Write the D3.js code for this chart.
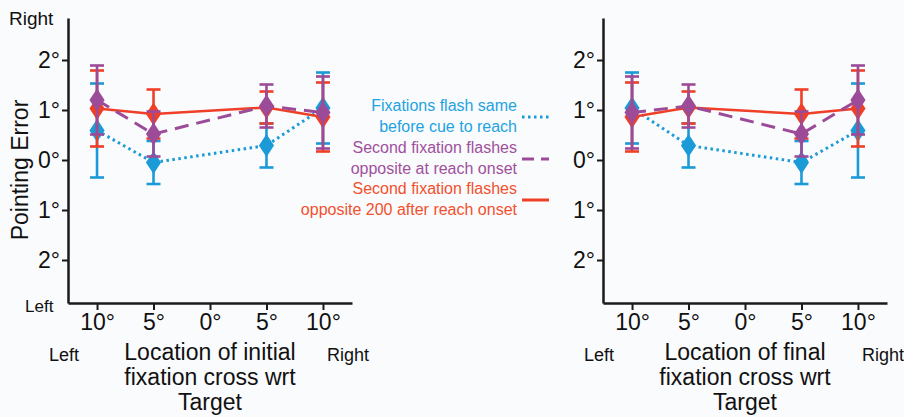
<!DOCTYPE html>
<html>
<head>
<meta charset="utf-8">
<script src="https://cdn.jsdelivr.net/npm/d3@7"></script>
<style>
  body { margin: 0; background: #fafbfd; }
  svg { display: block; font-family: "Liberation Sans", Arial, sans-serif; }
</style>
</head>
<body>
<div id="chart"></div>
<script>
// x positions (deg, target relative), no data at 0
var positions = [-10, -5, 5, 10];
var tickValues = [-10, -5, 0, 5, 10];
var tickLabels = ["10\u00b0", "5\u00b0", "0\u00b0", "5\u00b0", "10\u00b0"];
var yTickValues = [2, 1, 0, -1, -2];
var yTickLabels = ["2\u00b0", "1\u00b0", "0\u00b0", "1\u00b0", "2\u00b0"];

// left panel: initial fixation
var initialSame = [0.59, -0.05, 0.29, 1.04];
var initialSameErr = [0.94, 0.43, 0.44, 0.71];
var initialOnset = [1.2, 0.52, 1.08, 0.95];
var initialOnsetErr = [0.69, 0.45, 0.43, 0.72];
var initial200 = [1.03, 0.92, 1.05, 0.86];
var initial200Err = [0.76, 0.49, 0.32, 0.69];

// right panel: final fixation
var finalSame = [1.04, 0.29, -0.05, 0.59];
var finalSameErr = [0.71, 0.44, 0.43, 0.94];
var finalOnset = [0.95, 1.08, 0.52, 1.2];
var finalOnsetErr = [0.72, 0.43, 0.45, 0.69];
var final200 = [0.86, 1.05, 0.92, 1.03];
var final200Err = [0.69, 0.32, 0.49, 0.76];

var legendLabels = [
  ["Fixations flash same", "before cue to reach"],
  ["Second fixation flashes", "opposite at reach onset"],
  ["Second fixation flashes", "opposite 200 after reach onset"]
];

var colors = { same: "#1b9ad8", onset: "#9b4b97", late: "#ef3f26" };
var textColors = { same: "#1ea3e2", onset: "#a0509c", late: "#f2502e" };

var w = 904, h = 417;
var svg = d3.select("#chart").append("svg")
    .attr("width", w)
    .attr("height", h);

var y = d3.scaleLinear().domain([-2.86, 2.84]).range([303, 18]);

function drawPanel(x0, title, series, sideLabels) {
  var x = d3.scaleLinear().domain([-12.57, 12.57]).range([x0, x0 + 284]);
  var g = svg.append("g");

  // y axis
  var yAxis = d3.axisLeft(y)
      .tickValues(yTickValues)
      .tickFormat(function(d, i) { return yTickLabels[i]; })
      .tickSize(6)
      .tickSizeOuter(0)
      .tickPadding(2);
  var ya = g.append("g")
      .attr("transform", "translate(" + x0 + ",0)")
      .call(yAxis);
  ya.select(".domain").attr("stroke", "#1a1a1a").attr("stroke-width", 2.5);
  ya.selectAll(".tick line").attr("stroke", "#1a1a1a").attr("stroke-width", 2);
  ya.selectAll(".tick text")
      .attr("font-size", 23)
      .attr("fill", "#111")
      .attr("font-family", "Liberation Sans, Arial, sans-serif");

  // x axis
  var xAxis = d3.axisBottom(x)
      .tickValues(tickValues)
      .tickFormat(function(d, i) { return tickLabels[i]; })
      .tickSize(7)
      .tickSizeOuter(0)
      .tickPadding(4);
  var xa = g.append("g")
      .attr("transform", "translate(0,303)")
      .call(xAxis);
  xa.select(".domain").attr("stroke", "#1a1a1a").attr("stroke-width", 2.5);
  xa.selectAll(".tick line").attr("stroke", "#1a1a1a").attr("stroke-width", 2);
  xa.selectAll(".tick text")
      .attr("font-size", 23)
      .attr("fill", "#111")
      .attr("font-family", "Liberation Sans, Arial, sans-serif");

  // x title
  var cx = x(0);
  var tt = g.append("text")
      .attr("text-anchor", "middle")
      .attr("font-size", 23)
      .attr("fill", "#111");
  title.forEach(function(t, i) {
    tt.append("tspan").attr("x", cx).attr("y", 360 + i * 25).text(t);
  });
  g.append("text").attr("x", x(-10) - 48).attr("y", 361)
      .attr("font-size", 18).attr("fill", "#111")
      .text("Left");
  g.append("text").attr("x", x(10) + 4).attr("y", 361)
      .attr("font-size", 18).attr("fill", "#111")
      .text("Right");

  if (sideLabels) {
    g.append("text").attr("x", 9).attr("y", 25)
        .attr("font-size", 19).attr("fill", "#111").text("Right");
    g.append("text").attr("x", 25).attr("y", 312)
        .attr("font-size", 17).attr("fill", "#111").text("Left");
    g.append("text")
        .attr("transform", "translate(28," + y(-0.2) + ") rotate(-90)")
        .attr("text-anchor", "middle")
        .attr("font-size", 23)
        .attr("fill", "#111")
        .text("Pointing Error");
  }

  var line = d3.line()
      .x(function(d) { return x(d.x); })
      .y(function(d) { return y(d.v); });

  series.forEach(function(s) {
    var pts = positions.map(function(p, i) { return { x: p, v: s.vals[i], e: s.errs[i] }; });
    var sg = g.append("g");

    // error bars
    var eb = sg.selectAll(".eb").data(pts).enter().append("g");
    eb.append("line")
        .attr("x1", function(d) { return x(d.x); })
        .attr("x2", function(d) { return x(d.x); })
        .attr("y1", function(d) { return y(d.v + d.e); })
        .attr("y2", function(d) { return y(d.v - d.e); })
        .attr("stroke", s.color).attr("stroke-width", 2.6);
    [1, -1].forEach(function(sign) {
      eb.append("line")
          .attr("x1", function(d) { return x(d.x) - 7; })
          .attr("x2", function(d) { return x(d.x) + 7; })
          .attr("y1", function(d) { return y(d.v + sign * d.e); })
          .attr("y2", function(d) { return y(d.v + sign * d.e); })
          .attr("stroke", s.color).attr("stroke-width", 2.6);
    });

    sg.append("path")
        .datum(pts)
        .attr("d", line)
        .attr("fill", "none")
        .attr("stroke", s.color)
        .attr("stroke-width", s.width)
        .attr("stroke-dasharray", s.dash);

    sg.selectAll(".mk").data(pts).enter().append("path")
        .attr("d", d3.symbol().type(d3.symbolDiamond).size(150))
        .attr("transform", function(d) { return "translate(" + x(d.x) + "," + y(d.v) + ") scale(1.15,1)"; })
        .attr("fill", s.color);
  });
}

function seriesFor(same, sameErr, onset, onsetErr, late, lateErr) {
  return [
    { vals: same, errs: sameErr, color: colors.same, dash: "2.5,3.5", width: 3 },
    { vals: late, errs: lateErr, color: colors.late, dash: null, width: 2.5 },
    { vals: onset, errs: onsetErr, color: colors.onset, dash: "14,8", width: 3 }
  ];
}

drawPanel(68, ["Location of initial", "fixation cross wrt", "Target"],
  seriesFor(initialSame, initialSameErr, initialOnset, initialOnsetErr, initial200, initial200Err), true);
drawPanel(603, ["Location of final", "fixation cross wrt", "Target"],
  seriesFor(finalSame, finalSameErr, finalOnset, finalOnsetErr, final200, final200Err), false);

// legend
var legendKeys = ["same", "onset", "late"];
var legendDash = ["2.5,3.5", "12,7", null];
var legendY = [117, 159, 200];
var lg = svg.append("g");
legendKeys.forEach(function(k, i) {
  var txt = lg.append("text")
      .attr("text-anchor", "end")
      .attr("font-size", 16)
      .attr("fill", textColors[k]);
  legendLabels[i].forEach(function(t, j) {
    txt.append("tspan").attr("x", 517).attr("y", legendY[i] - 6 + j * 21).text(t);
  });
  lg.append("line")
      .attr("x1", 522).attr("x2", 549)
      .attr("y1", legendY[i]).attr("y2", legendY[i])
      .attr("stroke", colors[k])
      .attr("stroke-width", 3)
      .attr("stroke-dasharray", legendDash[i]);
});
</script>
</body>
</html>
